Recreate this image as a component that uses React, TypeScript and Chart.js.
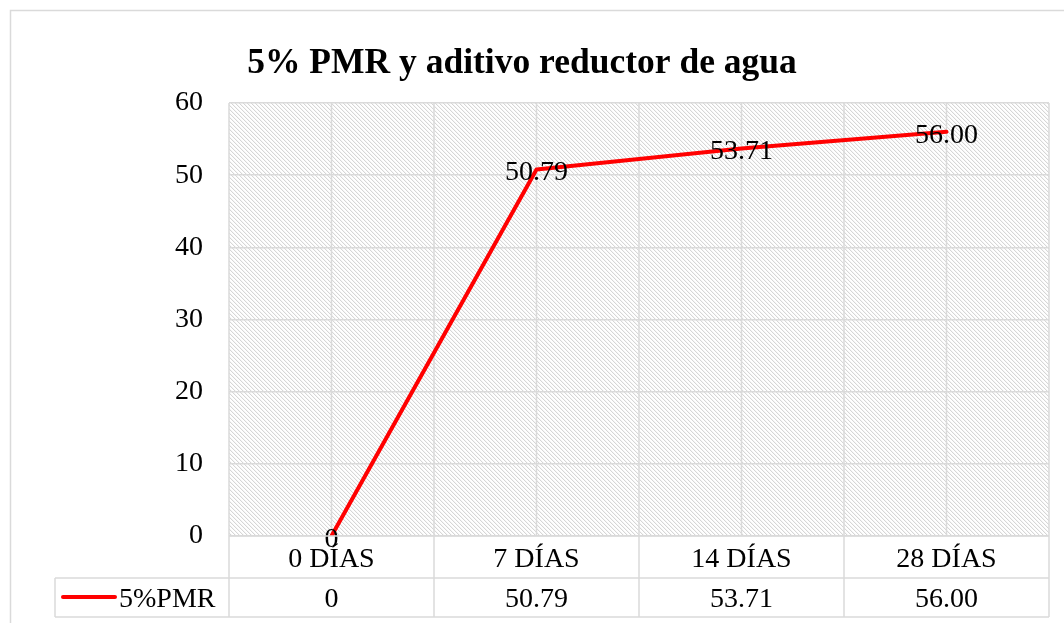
import React, { useEffect, useRef } from "react";
import { Chart, registerables } from "chart.js";

Chart.register(...registerables);

const chartTitle = "5% PMR y aditivo reductor de agua";
const categories = ["0 DÍAS", "7 DÍAS", "14 DÍAS", "28 DÍAS"];
const seriesName = "5%PMR";
const seriesValues = [0, 50.79, 53.71, 56.0];
const yMin = 0;
const yMax = 60;
const yStep = 10;

const FONT = "'Liberation Serif', 'Times New Roman', serif";
const GRID = "#dadada";
const RED = "#ff0000";

const fmt = (v: number) => (v === 0 ? "0" : v.toFixed(2));

function makeHatch(): CanvasPattern | string {
  const c = document.createElement("canvas");
  c.width = 4;
  c.height = 4;
  const g = c.getContext("2d");
  if (!g) return "#f2f2f2";
  g.fillStyle = "#ffffff";
  g.fillRect(0, 0, 4, 4);
  g.fillStyle = "#d6d6d6";
  for (let i = 0; i < 4; i++) g.fillRect(i, i, 1, 1);
  g.fillStyle = "#f6f6f6";
  for (let i = 0; i < 4; i++) g.fillRect((i + 1) % 4, i, 1, 1);
  const p = g.createPattern(c, "repeat");
  return p || "#f2f2f2";
}

const decorPlugin = {
  id: "decor",
  beforeDraw(chart: any) {
    const { ctx, chartArea } = chart;
    ctx.save();
    ctx.fillStyle = "#ffffff";
    ctx.fillRect(0, 0, chart.width, chart.height);
    ctx.strokeStyle = GRID;
    ctx.lineWidth = 1.5;
    ctx.strokeRect(10.5, 10.5, 1200, 800);
    ctx.fillStyle = makeHatch();
    ctx.fillRect(chartArea.left, chartArea.top, chartArea.right - chartArea.left, chartArea.bottom - chartArea.top);
    ctx.restore();
  },
  beforeDatasetsDraw(chart: any) {
    const { ctx, chartArea } = chart;
    const n = categories.length;
    const half = (chartArea.right - chartArea.left) / (2 * n);
    ctx.save();
    ctx.strokeStyle = GRID;
    ctx.lineWidth = 1.5;
    for (let k = 0; k <= 2 * n; k++) {
      const x = chartArea.left + k * half;
      ctx.beginPath();
      ctx.moveTo(x, chartArea.top);
      ctx.lineTo(x, chartArea.bottom);
      ctx.stroke();
    }
    ctx.restore();
  },
  afterDatasetsDraw(chart: any) {
    const { ctx } = chart;
    const meta = chart.getDatasetMeta(0);
    ctx.save();
    ctx.fillStyle = "#000000";
    ctx.font = `28px ${FONT}`;
    ctx.textAlign = "center";
    ctx.textBaseline = "alphabetic";
    meta.data.forEach((pt: any, i: number) => {
      ctx.fillText(fmt(seriesValues[i]), pt.x, pt.y + 11);
    });
    ctx.restore();
  },
  afterDraw(chart: any) {
    const { ctx, chartArea } = chart;
    const xs = chart.scales.x;
    const n = categories.length;
    const colW = (chartArea.right - chartArea.left) / n;
    const top = chartArea.bottom;
    const mid = 578;
    const bot = 617;
    const legLeft = 55;
    ctx.save();
    ctx.strokeStyle = GRID;
    ctx.lineWidth = 1.5;
    ctx.beginPath();
    ctx.moveTo(chartArea.left, top);
    ctx.lineTo(chartArea.right, top);
    ctx.moveTo(legLeft, mid);
    ctx.lineTo(chartArea.right, mid);
    ctx.moveTo(legLeft, bot);
    ctx.lineTo(chartArea.right, bot);
    for (let i = 0; i <= n; i++) {
      const x = chartArea.left + i * colW;
      ctx.moveTo(x, top);
      ctx.lineTo(x, bot);
    }
    ctx.moveTo(legLeft, mid);
    ctx.lineTo(legLeft, bot);
    ctx.stroke();

    ctx.fillStyle = "#000000";
    ctx.font = `28px ${FONT}`;
    ctx.textAlign = "center";
    ctx.textBaseline = "alphabetic";
    categories.forEach((c, i) => {
      const x = xs.getPixelForValue(i);
      ctx.fillText(c, x, 567);
      ctx.fillText(fmt(seriesValues[i]), x, 607);
    });

    ctx.strokeStyle = RED;
    ctx.lineWidth = 4;
    ctx.lineCap = "round";
    ctx.beginPath();
    ctx.moveTo(63, 597);
    ctx.lineTo(115, 597);
    ctx.stroke();
    ctx.textAlign = "left";
    ctx.fillText(seriesName, 119, 607);

    ctx.font = `bold 35.5px ${FONT}`;
    ctx.textAlign = "center";
    ctx.fillText(chartTitle, 522, 73);
    ctx.restore();
  },
};

export default function App() {
  const ref = useRef<HTMLCanvasElement | null>(null);
  useEffect(() => {
    if (!ref.current) return;
    Chart.defaults.font.family = FONT;
    const chart = new Chart(ref.current, {
      type: "line",
      data: {
        labels: categories,
        datasets: [
          {
            label: seriesName,
            data: seriesValues,
            borderColor: RED,
            backgroundColor: RED,
            borderWidth: 4,
            pointRadius: 0,
            tension: 0,
            borderCapStyle: "round",
            borderJoinStyle: "round",
          },
        ],
      },
      plugins: [decorPlugin],
      options: {
        responsive: false,
        animation: false,
        layout: { padding: { left: 0, right: 15, top: 103, bottom: 0 } },
        plugins: {
          legend: { display: false },
          title: { display: false },
          tooltip: { enabled: false },
        },
        scales: {
          x: {
            type: "category",
            offset: true,
            grid: { display: false },
            border: { display: false },
            ticks: { display: false },
            afterFit: (s: any) => {
              s.height = 87;
            },
          },
          y: {
            min: yMin,
            max: yMax,
            border: { display: false },
            grid: { color: GRID, lineWidth: 1.5, drawTicks: false },
            ticks: {
              stepSize: yStep,
              padding: 26,
              color: "#000000",
              font: { size: 28, family: FONT },
            },
            afterFit: (s: any) => {
              s.width = 229;
            },
          },
        },
      },
    } as any);
    return () => chart.destroy();
  }, []);
  return (
    <div style={{ position: "absolute", left: 0, top: 0, width: 1064, height: 623 }}>
      <canvas ref={ref} width={1064} height={623} style={{ display: "block" }} />
    </div>
  );
}
